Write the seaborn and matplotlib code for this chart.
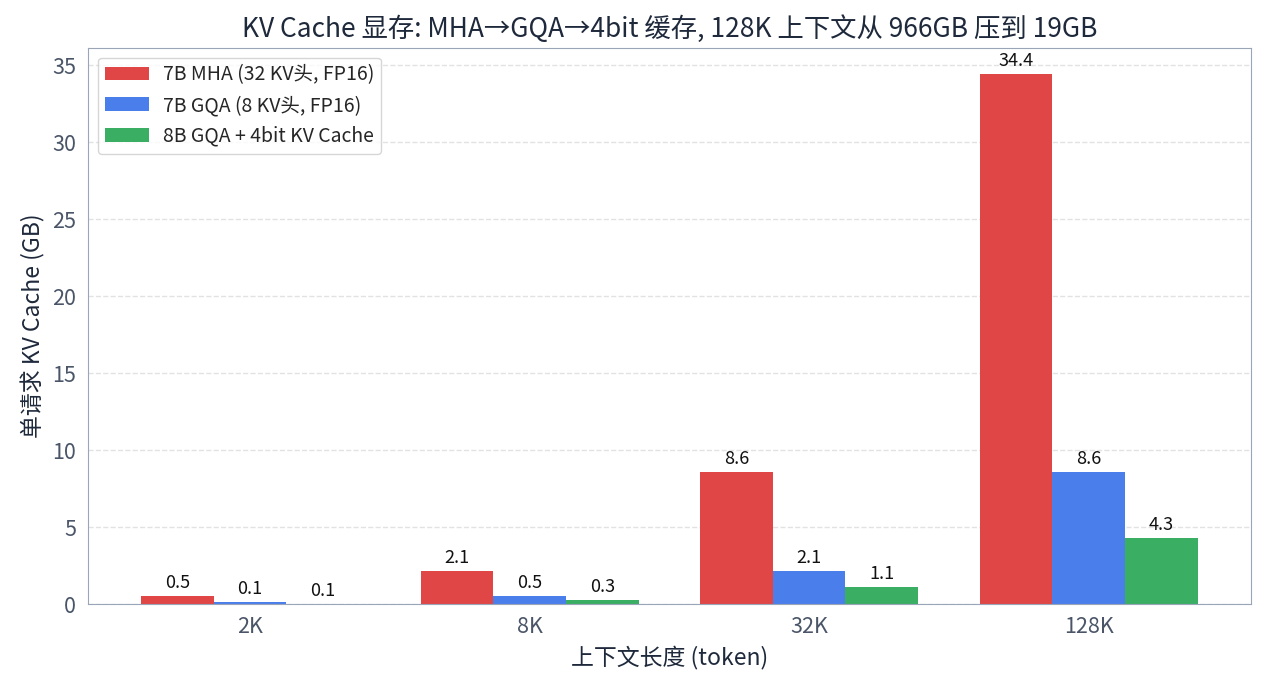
import matplotlib
matplotlib.use("Agg")
import matplotlib.pyplot as plt
import seaborn as sns
import pandas as pd

# context lengths and KV cache per request (GB)
contexts = ["2K", "8K", "32K", "128K"]
series_names = ["7B MHA (32 KV头, FP16)", "7B GQA (8 KV头, FP16)", "8B GQA + 4bit KV Cache"]
mha_fp16 = [0.54, 2.15, 8.6, 34.4]
gqa_fp16 = [0.13, 0.54, 2.15, 8.6]
gqa_4bit = [0.03, 0.27, 1.1, 4.3]
label_vals = [[0.5, 2.1, 8.6, 34.4], [0.1, 0.5, 2.1, 8.6], [0.1, 0.3, 1.1, 4.3]]
colors = ["#e04646", "#4a7eeb", "#3aae63"]

rows = []
for name, vals in zip(series_names, [mha_fp16, gqa_fp16, gqa_4bit]):
    for c, v in zip(contexts, vals):
        rows.append({"context": c, "series": name, "gb": v})
df = pd.DataFrame(rows)

sns.set_style("white")
plt.rcParams['font.family'] = ['Noto Sans CJK SC', 'DejaVu Sans']
plt.rcParams['axes.unicode_minus'] = False

fig, ax = plt.subplots(figsize=(12.66, 6.93), dpi=100)
fig.subplots_adjust(left=0.0695, right=0.988, top=0.931, bottom=0.128)
sns.barplot(data=df, x="context", y="gb", hue="series", order=contexts,
            hue_order=series_names, palette=colors, width=0.78,
            saturation=1, linewidth=0, ax=ax, errorbar=None)

for cont, labs in zip(ax.containers, label_vals):
    ax.bar_label(cont, labels=[f"{v:.1f}" for v in labs], padding=3, fontsize=13, color="#111111")

ax.set_xlim(-0.58, 3.58)
ax.set_ylim(0, 36.12)
ax.yaxis.grid(True, linestyle="--", color="#e2e2e2", linewidth=1)
ax.set_axisbelow(True)

for s in ax.spines.values():
    s.set_color("#9aa5b8")
ax.tick_params(axis="both", colors="#9aa5b8", labelcolor="#4a5568", labelsize=15.5, length=5)

ax.set_title("KV Cache 显存: MHA→GQA→4bit 缓存, 128K 上下文从 966GB 压到 19GB",
             fontsize=19, color="#1e293b", pad=8)
ax.set_xlabel("上下文长度 (token)", fontsize=16.5, color="#1e293b", labelpad=5)
ax.set_ylabel("单请求 KV Cache (GB)", fontsize=16.5, color="#1e293b", labelpad=5)

leg = ax.legend(loc="upper left", fontsize=14, frameon=True, fancybox=True,
                handlelength=2.3, handletextpad=0.7, borderpad=0.35, title=None)
leg.get_frame().set_edgecolor("#cccccc")

plt.savefig("out.png", dpi=100)
